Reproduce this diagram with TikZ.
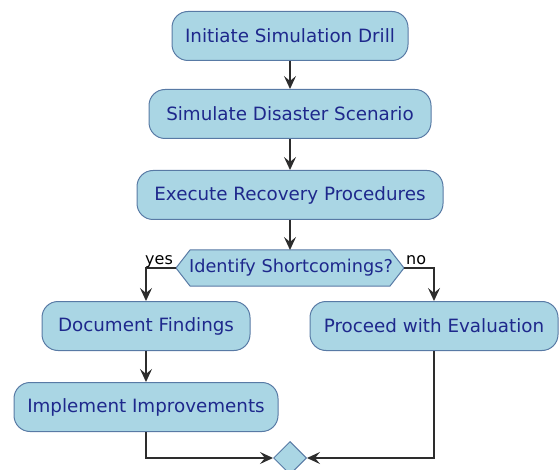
\documentclass[tikz,border=0pt]{standalone}
\usepackage{fontspec}
\setmainfont{DejaVu Sans}
\usetikzlibrary{arrows.meta,shapes.geometric}
\definecolor{boxfill}{RGB}{170,214,228}
\definecolor{boxline}{RGB}{88,122,165}
\definecolor{txt}{RGB}{30,40,140}
\definecolor{lin}{RGB}{45,45,45}
\tikzset{
  act/.style={rectangle, rounded corners=16pt, draw=boxline, fill=boxfill, line width=1pt,
    text=txt, font=\fontsize{18.3}{21}\selectfont, minimum height=49pt, inner sep=0pt},
  arr/.style={draw=lin, line width=1.4pt, -{Stealth[length=13pt,width=12pt,inset=5pt]}},
  lbl/.style={font=\fontsize{16}{18}\selectfont, text=black, inner sep=0pt}
}
\begin{document}
\begin{tikzpicture}[x=1pt,y=-1pt]
\useasboundingbox (0,0) rectangle (559,470);
\node[act, minimum width=236pt] (n1) at (290,36) {Initiate Simulation Drill};
\node[act, minimum width=282pt] (n2) at (290,114) {Simulate Disaster Scenario};
\node[act, minimum width=306pt] (n3) at (290,195) {Execute Recovery Procedures};
% decision hexagon
\coordinate (decL) at (176,268);
\coordinate (decR) at (404,268);
\coordinate (decT) at (290,250);
\filldraw[fill=boxfill, draw=boxline, line width=1pt]
  (decL) -- (190,250) -- (390,250) -- (decR) -- (390,286) -- (190,286) -- cycle;
\node[text=txt, font=\fontsize{17.7}{20}\selectfont, inner sep=0pt] (dec) at (291,268) {Identify Shortcomings?};
\node[act, minimum width=208pt] (n4) at (146,326) {Document Findings};
\node[act, minimum width=248pt] (n5) at (434,326) {Proceed with Evaluation};
\node[act, minimum width=264pt] (n6) at (146,407) {Implement Improvements};
\node[diamond, aspect=1, draw=boxline, fill=boxfill, line width=1pt, minimum width=33pt, minimum height=33pt, inner sep=0pt] (m) at (290,458) {};
\draw[arr] (n1) -- (n2);
\draw[arr] (n2) -- (n3);
\draw[arr] (n3.south) -- (decT);
\draw[arr] (decL) -| (n4.north);
\draw[arr] (decR) -| (n5.north);
\draw[arr] (n4.south) -- (n4.south |- n6.north);
\draw[arr] (n6.south) |- (m.west);
\draw[arr] (n5.south) |- (m.east);
\node[lbl, anchor=base west] (yes) at (145,265) {yes};
\node[lbl, anchor=base west] (no) at (406,264) {no};
\end{tikzpicture}
\end{document}
